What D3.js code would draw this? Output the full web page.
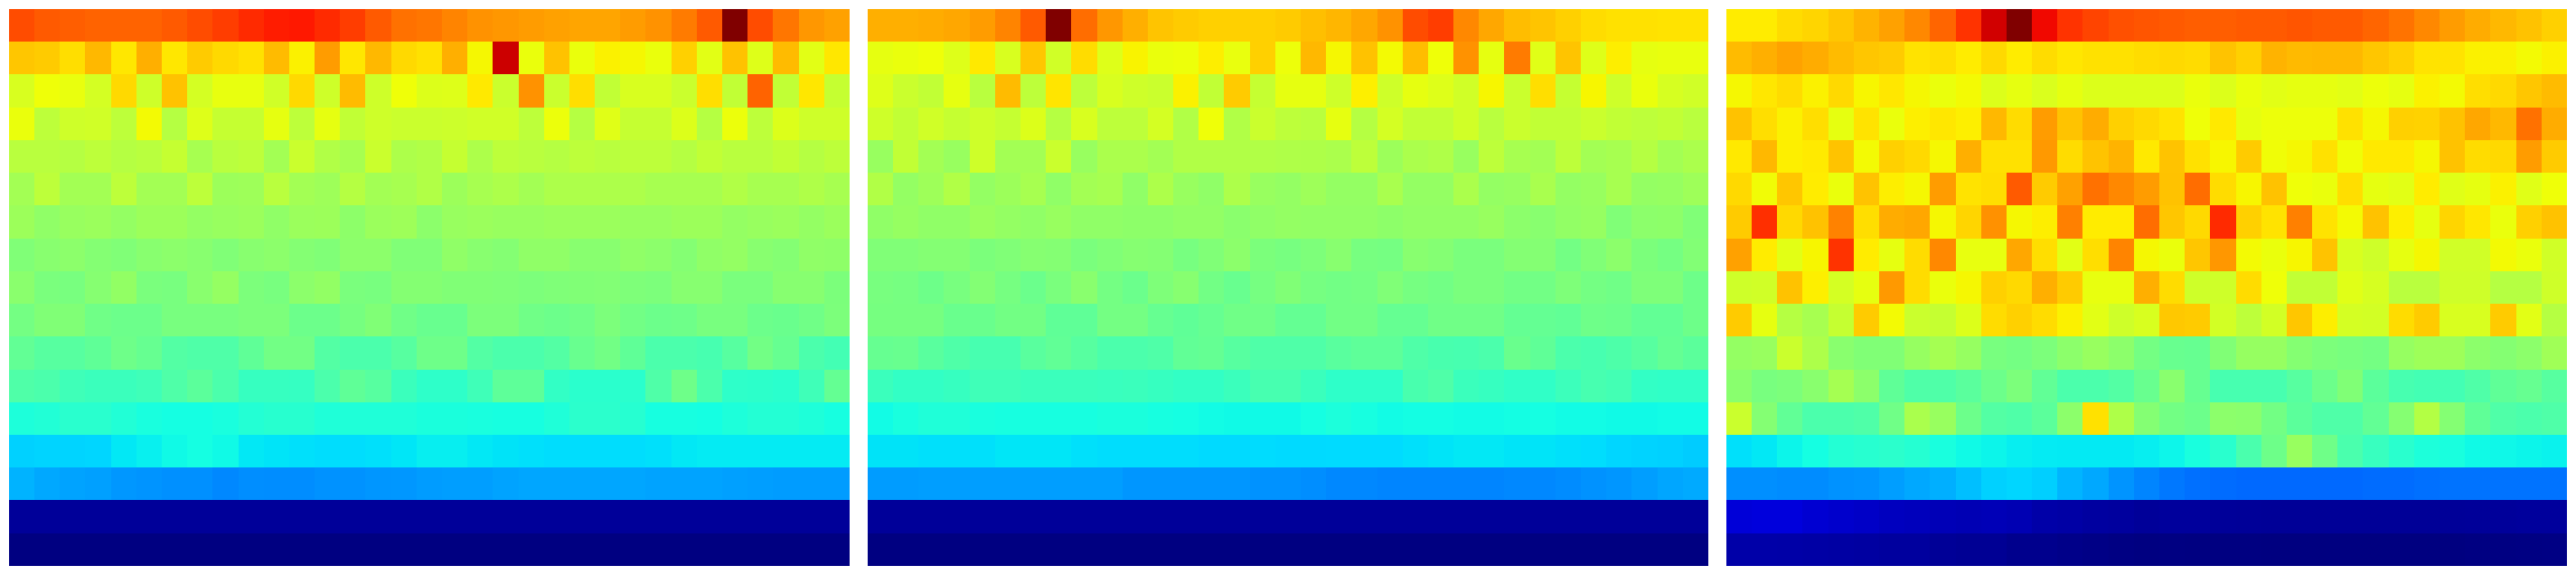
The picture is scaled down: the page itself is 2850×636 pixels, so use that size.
<!DOCTYPE html>
<html>
<head>
<meta charset="utf-8">
<style>html,body{margin:0;padding:0;background:#fff;overflow:hidden}svg{display:block}</style>
<script src="https://cdn.jsdelivr.net/npm/d3@7"></script>
</head>
<body>
<svg id="chart" width="2850" height="636"></svg>
<script>
// Cell values, on a 0-1000 scale of the jet colour map. One list per row.
const panelA = [
[830,815,810,805,805,805,815,830,845,865,880,885,865,845,815,790,785,770,755,750,745,740,735,735,745,755,780,815,1000,830,785,750,740],
[700,695,675,715,665,725,665,695,680,672,712,655,745,665,715,680,672,725,648,934,635,705,635,655,648,635,690,625,705,620,712,625,665],
[612,640,633,608,680,600,705,608,632,632,603,680,600,712,600,640,618,620,663,595,755,595,675,585,612,612,595,675,585,805,585,665,590],
[635,580,600,603,580,645,570,620,590,590,630,580,630,585,600,595,595,598,603,603,580,637,570,622,590,590,618,570,637,580,618,600,600],
[575,575,570,580,570,575,590,553,575,580,548,595,565,553,595,560,565,590,560,580,575,570,580,575,580,580,570,585,575,575,585,570,580],
[548,580,548,548,580,548,548,580,540,542,575,548,542,570,548,553,565,540,553,560,548,560,560,560,560,553,553,553,565,553,553,563,553],
[540,525,535,538,530,540,540,530,535,538,525,538,540,522,538,542,520,535,538,535,535,538,538,538,535,535,540,540,530,535,538,530,538],
[505,515,520,510,505,515,520,515,505,515,520,510,505,520,520,505,505,525,515,510,525,525,515,515,525,520,510,525,530,515,510,525,523],
[518,498,496,513,528,498,496,516,531,501,496,520,528,498,496,511,511,506,506,504,501,504,506,508,503,501,514,514,498,498,514,514,500],
[491,506,506,486,481,481,496,496,496,501,501,481,481,494,506,486,476,476,501,501,486,481,486,501,488,481,484,496,496,481,478,486,501],
[469,456,456,466,484,474,451,446,446,466,488,488,451,441,441,456,484,484,451,441,441,451,476,488,466,441,441,436,456,488,474,441,431],
[446,441,426,421,421,426,446,461,441,416,416,414,441,466,456,421,406,406,426,464,464,411,401,401,401,446,484,441,406,404,401,426,471],
[385,390,400,400,390,380,375,375,380,392,398,398,388,388,388,388,382,382,380,378,378,388,402,402,396,378,378,375,385,392,392,386,378],
[330,333,333,335,352,360,370,375,370,352,349,345,342,342,345,350,358,358,352,348,345,342,342,342,342,345,352,355,355,355,355,355,355],
[300,290,285,282,273,270,266,266,258,264,263,263,268,268,272,273,278,280,280,285,288,288,288,288,288,285,285,285,282,280,278,278,278],
[22,22,22,22,22,22,22,22,22,22,22,22,22,22,22,22,22,22,22,22,22,22,22,22,22,22,22,22,22,22,22,22,22],
[1,1,1,1,1,1,1,1,1,1,1,1,1,1,1,1,1,1,1,1,1,1,1,1,1,1,1,1,1,1,1,1,1]
];
const panelB = [
[725,725,728,733,745,770,815,1000,795,750,725,702,695,690,690,690,695,708,717,733,755,830,845,766,733,710,702,690,677,672,672,670,670],
[630,635,640,620,663,612,700,603,677,620,653,635,638,658,633,690,638,715,648,705,645,710,640,755,630,780,622,702,620,658,630,633,633],
[620,595,585,630,575,712,580,668,580,612,600,595,655,585,695,590,630,630,600,657,600,630,620,603,650,595,675,590,650,600,635,610,603],
[600,585,603,590,600,590,618,570,612,580,580,608,565,640,565,595,580,575,630,570,608,585,585,603,575,595,585,585,595,585,580,585,575],
[535,585,548,535,600,548,548,595,535,558,558,548,565,565,565,565,563,562,558,580,540,558,563,535,580,553,548,580,548,553,570,548,558],
[565,530,542,565,530,540,553,525,548,553,525,560,535,525,560,535,530,542,530,530,555,530,530,558,530,533,555,530,535,553,530,532,542],
[525,532,525,525,537,530,525,535,525,525,522,522,527,527,518,525,530,527,527,527,522,527,527,527,535,520,515,527,532,505,520,522,505],
[505,505,510,510,500,505,513,510,498,505,513,510,495,505,520,500,495,502,515,495,492,515,510,498,498,510,510,490,505,520,500,492,508],
[496,493,483,496,509,493,480,498,516,491,480,503,514,488,476,493,506,493,488,491,505,493,488,498,498,488,488,503,491,486,503,503,483],
[494,494,494,478,478,489,489,466,466,491,491,474,466,474,486,486,471,471,488,488,473,473,486,486,486,471,471,468,484,481,469,469,483],
[474,476,458,446,436,436,458,468,456,441,441,446,468,471,456,446,446,446,458,464,464,446,438,436,441,478,466,441,436,444,456,471,461],
[421,411,411,416,426,426,421,421,421,419,421,416,411,411,421,436,436,421,406,406,406,438,446,421,416,408,408,423,436,431,411,408,408],
[372,380,388,388,380,378,378,378,378,382,382,378,375,372,370,370,370,375,384,378,372,374,374,372,372,374,375,372,372,370,370,372,372],
[348,348,345,345,345,350,350,350,345,342,342,342,342,339,339,341,339,339,340,340,340,345,349,352,352,349,349,345,342,335,332,330,325],
[278,278,280,280,280,280,280,280,280,280,272,272,272,272,272,268,268,264,258,258,255,255,255,255,255,258,258,262,268,272,280,288,292],
[22,22,22,22,22,22,22,22,22,22,22,22,22,22,22,22,22,22,22,22,22,22,22,22,22,22,22,22,22,22,22,22,22],
[1,1,1,1,1,1,1,1,1,1,1,1,1,1,1,1,1,1,1,1,1,1,1,1,1,1,1,1,1,1,1,1,1]
];
const panelC = [
[660,660,677,685,700,720,740,766,803,856,930,1000,902,856,838,825,820,815,810,810,815,815,820,815,815,803,788,766,745,728,715,705,690],
[712,725,738,728,712,700,695,670,675,660,680,660,677,665,672,672,677,680,677,703,690,720,713,715,715,700,690,670,670,655,655,645,655],
[648,665,677,655,680,650,665,648,635,645,618,630,615,630,618,618,618,618,635,618,635,625,630,630,625,638,630,655,645,675,680,700,712],
[705,675,655,675,630,670,635,657,665,657,715,677,745,703,728,690,680,670,640,663,630,638,638,638,672,648,690,688,705,733,715,790,728],
[663,715,657,662,703,645,690,680,648,725,672,672,748,677,703,720,663,703,672,650,695,642,648,672,642,663,663,648,705,677,680,745,695],
[680,643,700,660,635,703,658,648,745,670,675,815,695,740,790,766,745,705,795,677,650,705,640,635,675,630,625,660,622,630,655,622,640],
[695,860,680,705,772,675,728,733,648,685,757,648,658,775,660,660,795,700,680,865,690,670,775,670,645,705,657,630,685,665,635,690,705],
[740,660,625,650,856,660,630,677,766,632,632,733,675,625,675,770,648,635,700,750,645,635,650,703,612,600,630,648,603,603,645,635,603],
[600,603,705,657,608,630,748,677,635,648,690,680,725,695,632,632,725,677,600,600,677,640,585,585,622,610,575,575,600,600,570,570,600],
[695,630,570,553,590,695,645,595,590,618,677,690,677,655,625,600,612,698,695,605,580,605,700,658,608,605,677,695,612,612,695,625,570],
[530,535,595,560,516,506,506,532,550,532,496,491,501,520,535,520,491,476,474,506,532,532,511,501,496,491,532,542,542,520,511,520,544],
[516,496,501,516,550,520,466,446,446,459,481,501,468,441,441,451,476,516,474,436,436,436,456,481,506,461,436,431,431,446,466,474,456],
[595,510,468,441,441,446,486,557,535,481,451,446,461,520,672,562,510,489,481,520,518,489,461,446,446,469,512,567,510,466,446,441,446],
[345,352,365,375,392,397,402,395,380,370,365,358,355,354,354,354,358,366,380,400,440,483,535,485,440,418,400,385,380,370,368,365,362],
[265,265,262,262,268,270,280,290,297,312,330,335,328,302,290,270,255,243,235,231,228,228,228,228,228,231,231,235,238,238,238,238,238],
[76,80,80,71,66,62,55,52,48,45,48,44,35,32,28,26,22,25,25,22,21,20,20,20,20,20,20,20,21,22,23,25,25],
[35,35,34,32,31,29,26,26,20,18,18,12,12,8,6,3,1,2,1,1,1,0,0,0,0,0,0,0,0,2,2,3,4]
];

const panels = [panelA, panelB, panelC];
const panelLefts = [9.95, 959.95, 1909.95];
const panelWidth = 930, panelTop = 9.95, panelHeight = 616;

// matplotlib-style jet built from piecewise linear scales
const red = d3.scaleLinear().domain([0, 350, 660, 890, 1000]).range([0, 0, 255, 255, 127.5]);
const green = d3.scaleLinear().domain([0, 125, 375, 640, 910, 1000]).range([0, 0, 255, 255, 0, 0]);
const blue = d3.scaleLinear().domain([0, 110, 340, 650, 1000]).range([127.5, 255, 255, 0, 0]);
const jet = v => d3.rgb(Math.round(red(v)), Math.round(green(v)), Math.round(blue(v))).formatHex();

const svg = d3.select('#chart');
panels.forEach((rows, p) => {
  const x = d3.scaleLinear().domain([0, rows[0].length]).range([panelLefts[p], panelLefts[p] + panelWidth]);
  const y = d3.scaleLinear().domain([0, rows.length]).range([panelTop, panelTop + panelHeight]);
  const cells = rows.flatMap((row, r) => row.map((v, c) => ({r, c, v})));
  svg.append('g').selectAll('rect').data(cells).join('rect')
    .attr('x', d => Math.round(x(d.c)))
    .attr('y', d => Math.round(y(d.r)))
    .attr('width', d => Math.round(x(d.c + 1)) - Math.round(x(d.c)))
    .attr('height', d => Math.round(y(d.r + 1)) - Math.round(y(d.r)))
    .attr('fill', d => jet(d.v))
    .attr('shape-rendering', 'crispEdges');
});
</script>
</body>
</html>
